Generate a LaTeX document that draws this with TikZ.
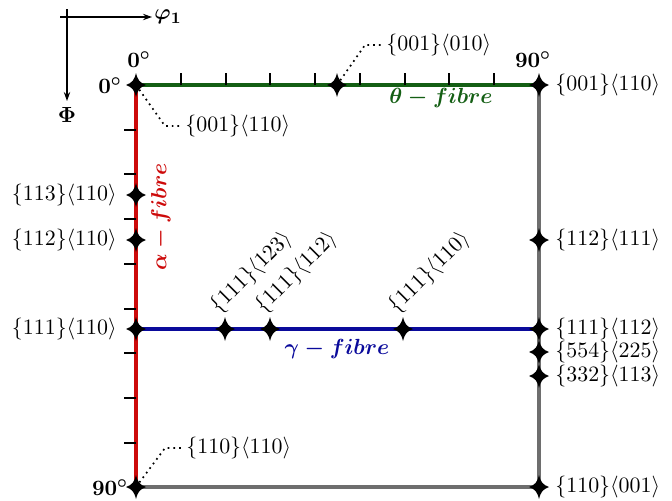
\documentclass[tikz,border=0pt]{standalone}
\usepackage{amsmath,bm}
\usetikzlibrary{arrows.meta}
\definecolor{fgreen}{RGB}{20,95,20}
\definecolor{fred}{RGB}{205,10,10}
\definecolor{fblue}{RGB}{10,10,155}
\definecolor{fgray}{RGB}{110,110,110}
\newcommand{\fsz}{\fontsize{11.2}{13}\selectfont}
\begin{document}
\begin{tikzpicture}[x=0.5pt,y=-0.5pt,
  font=\fsz,
  lab/.style={inner sep=1pt},
  tick/.style={line width=1pt},
  leader/.style={dotted, line width=0.85pt},
  axisarrow/.style={line width=0.6pt,-{Stealth[length=4.5pt,width=3.2pt]}},
  fibrelab/.style={font=\fsz\boldmath},
  corner/.style={font=\fsz\boldmath, inner sep=0pt},
  sparkle/.pic={\fill[black] (0,-12) .. controls (1.9,-4.6) and (3.8,-2.3) .. (10,0)
      .. controls (3.8,2.3) and (1.9,4.6) .. (0,12)
      .. controls (-1.9,4.6) and (-3.8,2.3) .. (-10,0)
      .. controls (-3.8,-2.3) and (-1.9,-4.6) .. (0,-12) -- cycle;}]
\useasboundingbox (0,0) rectangle (672,500);

% axes
\coordinate (hx0) at (60,17);
\coordinate (hx1) at (152,17);
\coordinate (vx0) at (67,9);
\coordinate (vx1) at (67,101);
\draw[axisarrow] (hx0) -- (hx1);
\draw[axisarrow] (vx0) -- (vx1);
\node[anchor=west, inner sep=1pt, font=\fsz\boldmath] (phi1) at (hx1) {$\varphi_1$};
\node[inner sep=0pt] (Phi) at (67,115) {$\boldsymbol{\Phi}$};

% corners
\coordinate (O) at (136,85);
\coordinate (TR) at (539,85);
\coordinate (BL) at (136,487);
\coordinate (BR) at (539,487);
\coordinate (G0) at (136,329);
\coordinate (G1) at (539,329);

% fibres
\draw[fgray, line width=2.2pt] (TR) -- (BR) -- (BL);
\draw[fred, line width=2.2pt] (O) -- (BL);
\draw[fgreen, line width=1.8pt] (O) -- (TR);
\draw[fblue, line width=1.8pt] (G0) -- (G1);

% ticks
\foreach \k in {1,...,8} {
  \draw[tick] (136+44.75*\k,85) -- ++(0,-12);
  \draw[tick] (136,85+44.7*\k) -- ++(-12,0);
}

% points
\coordinate (P45) at (337,85);
\coordinate (A113) at (136,195);
\coordinate (A112) at (136,240);
\coordinate (Y123) at (225,329);
\coordinate (Y112) at (270,329);
\coordinate (Y110) at (403,329);
\coordinate (R112) at (539,240);
\coordinate (R554) at (539,352);
\coordinate (R332) at (539,376);

\foreach \p in {O,TR,BL,BR,G0,G1,P45,A113,A112,Y123,Y112,Y110,R112,R554,R332}
  \pic at (\p) {sparkle};

% corner angle labels
\node[corner] (c0t) at (139,60) {$0^{\circ}$};
\node[corner] (c90t) at (533,60) {$90^{\circ}$};
\node[corner] (c0l) at (110,86) {$0^{\circ}$};
\node[corner] (c90l) at (110,488) {$90^{\circ}$};

% right labels
\node[lab, anchor=west] (lTR) at (553,85) {$\{001\}\langle110\rangle$};
\node[lab, anchor=west] (lR112) at (553,240) {$\{112\}\langle111\rangle$};
\node[lab, anchor=west] (lG1) at (553,329) {$\{111\}\langle112\rangle$};
\node[lab, anchor=west] (lR554) at (553,352) {$\{554\}\langle225\rangle$};
\node[lab, anchor=west] (lR332) at (553,376) {$\{332\}\langle113\rangle$};
\node[lab, anchor=west] (lBR) at (553,487) {$\{110\}\langle001\rangle$};

% left labels
\node[lab, anchor=east] (lA113) at (119,195) {$\{113\}\langle110\rangle$};
\node[lab, anchor=east] (lA112) at (119,240) {$\{112\}\langle110\rangle$};
\node[lab, anchor=east] (lG0) at (119,329) {$\{111\}\langle110\rangle$};

% gamma rotated labels
\node[inner sep=0pt, rotate=45, anchor=south west] (lY123) at (222,318) {$\{111\}\langle123\rangle$};
\node[inner sep=0pt, rotate=45, anchor=south west] (lY112) at (267,318) {$\{111\}\langle112\rangle$};
\node[inner sep=0pt, rotate=45, anchor=south west] (lY110) at (400,318) {$\{111\}\langle110\rangle$};

% leader labels
\node[lab, anchor=west] (lP45) at (384,45) {$\{001\}\langle010\rangle$};
\coordinate (k45) at (365,45);
\draw[leader] (P45) -- (k45) -- (lP45.west);
\node[lab, anchor=west] (lO) at (183,126) {$\{001\}\langle110\rangle$};
\coordinate (kO) at (165,126);
\draw[leader] (O) -- (kO) -- (lO.west);
\node[lab, anchor=west] (lBL) at (184,448) {$\{110\}\langle110\rangle$};
\coordinate (kBL) at (165,448);
\draw[leader] (BL) -- (kBL) -- (lBL.west);

% fibre labels
\node[fibrelab, text=fgreen] (th) at (441,98) {$\theta - fibre$};
\node[fibrelab, text=fblue] (ga) at (337,349) {$\gamma - fibre$};
\node[fibrelab, text=fred, rotate=90] (al) at (161,217) {$\alpha - fibre$};
\end{tikzpicture}
\end{document}
